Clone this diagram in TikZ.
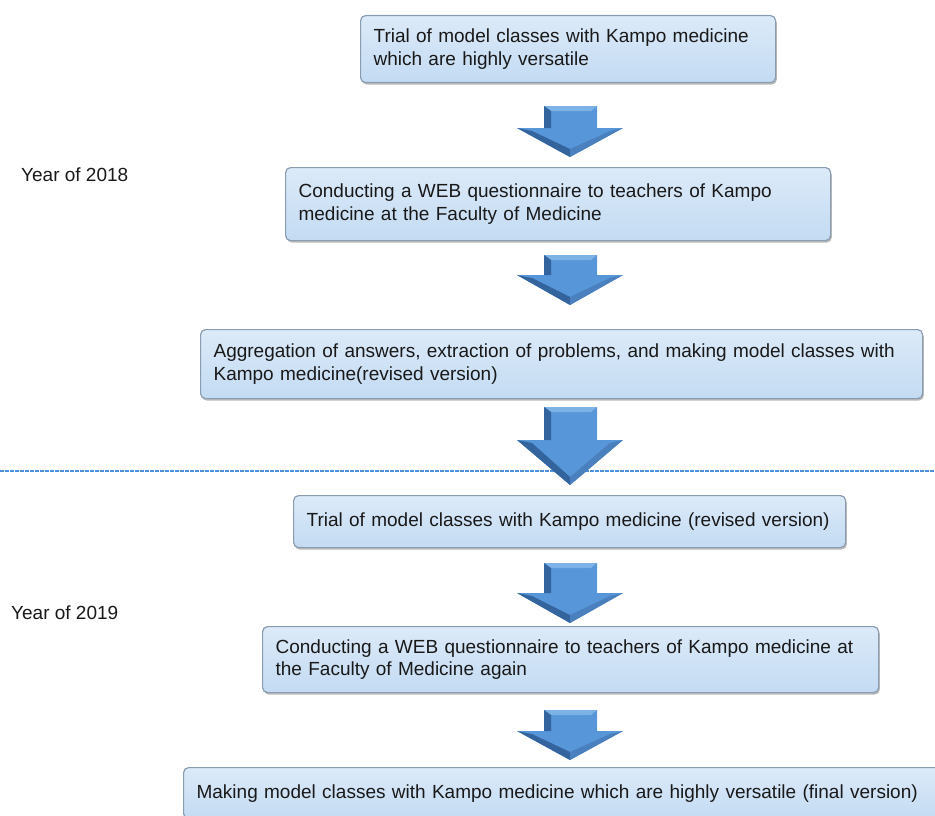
\documentclass[tikz,border=0pt]{standalone}
\usepackage{fontspec}
\setmainfont{Liberation Sans}
\usetikzlibrary{shadows}

% block arrow: shaft top, head top, tip (x fixed at the flow centre)
\newcommand{\downArrow}[3]{%
    \fill[arrowMain] (544,#1) -- (597,#1) -- (597,#2) -- (623,#2) -- (570,#3) -- (517,#2) -- (544,#2) -- cycle;
    \fill[arrowLight] (544,#1) -- (597,#1) -- (591,#1+5) -- (551,#1+5) -- cycle;
    \fill[arrowDark] (544,#1) -- (551,#1+5) -- (551,#2) -- (544,#2) -- cycle;
    \fill[arrowDark] (517,#2) -- (570,#3) -- (570,#3-8) -- (532,#2+3) -- cycle;
    \fill[arrowSide] (623,#2) -- (570,#3) -- (570,#3-8) -- (610,#2+3) -- cycle;
}

\begin{document}
\begin{tikzpicture}[x=1pt, y=-1pt,
    stepBox/.style={draw=boxBorder, line width=1.2pt, rounded corners=5pt,
        top color=boxTop, bottom color=boxBottom, anchor=north west,
        align=left, inner xsep=13pt, inner ysep=0pt, text=black!90,
        font=\fontsize{19}{22.5}\selectfont,
        drop shadow={shadow xshift=1.2pt, shadow yshift=-2pt, fill=black!50, opacity=0.55}},
    yearLabel/.style={anchor=west, inner sep=0pt, text=black!90,
        font=\fontsize{19}{22.5}\selectfont},
    dashLine/.style={draw=lineBlue, line width=1.3pt, dash pattern=on 3.5pt off 1.5pt}]
    \definecolor{boxTop}{HTML}{DCEAF8}
    \definecolor{boxBottom}{HTML}{C3DBF3}
    \definecolor{boxBorder}{HTML}{8A9CB0}
    \definecolor{lineBlue}{HTML}{4A90DA}
    \definecolor{arrowMain}{HTML}{5796D8}
    \definecolor{arrowLight}{HTML}{7DB2E6}
    \definecolor{arrowDark}{HTML}{34649E}
    \definecolor{arrowSide}{HTML}{4A80BE}

    \useasboundingbox (0,0) rectangle (935,816);

    % Draw the year separator
    \coordinate (sepLeft) at (0,471);
    \coordinate (sepRight) at (935,471);
    \draw[dashLine] (sepLeft) -- (sepRight);

    % Year labels
    \node[yearLabel] (year2018) at (21,175) {Year of 2018};
    \node[yearLabel] (year2019) at (11,613) {Year of 2019};

    % Steps of 2018
    \node[stepBox, text width=389pt, minimum height=67pt] (trialFirst) at (360,15)
        {Trial of model classes with Kampo medicine\\which are highly versatile};
    \node[stepBox, text width=519pt, minimum height=73pt] (webFirst) at (285,167)
        {Conducting a WEB questionnaire to teachers of Kampo\\medicine at the Faculty of Medicine};
    \node[stepBox, text width=696pt, minimum height=69pt] (aggregation) at (200,329)
        {Aggregation of answers, extraction of problems, and making model classes with\\Kampo medicine(revised version)};

    % Steps of 2019
    \node[stepBox, text width=526pt, minimum height=52pt] (trialRevised) at (293,495)
        {Trial of model classes with Kampo medicine (revised version)};
    \node[stepBox, text width=590pt, minimum height=66pt] (webAgain) at (262,626)
        {Conducting a WEB questionnaire to teachers of Kampo medicine at\\the Faculty of Medicine again};
    \node[stepBox, text width=731pt, minimum height=51pt] (finalVersion) at (183,767)
        {Making model classes with Kampo medicine which are highly versatile (final version)};

    % Draw the arrows between the steps
    \downArrow{106}{128}{157}
    \downArrow{255}{275}{305}
    \downArrow{407}{440}{485}
    \downArrow{563}{593}{623}
    \downArrow{710}{731}{760}

\end{tikzpicture}
\end{document}
